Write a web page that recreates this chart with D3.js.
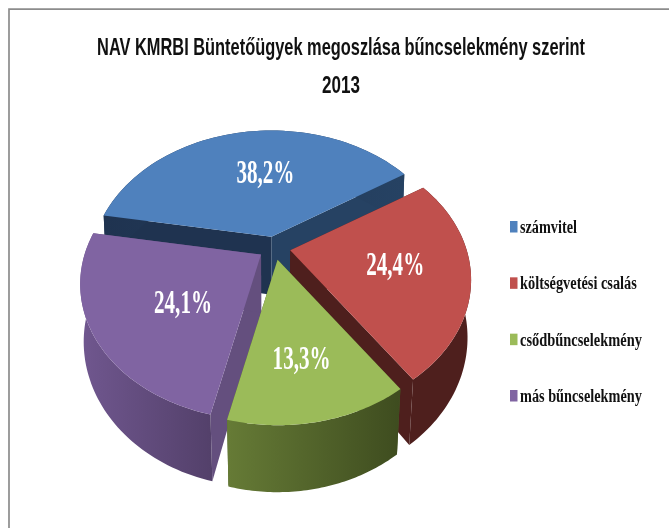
<!DOCTYPE html>
<html><head><meta charset="utf-8">
<script src="https://cdn.jsdelivr.net/npm/d3@7/dist/d3.min.js"></script>
<style>html,body{margin:0;padding:0;background:#fff;overflow:hidden}svg{display:block;filter:blur(0.45px)}</style>
</head><body><svg id="c" width="669" height="528"></svg>
<script>
const titleLines = ["NAV KMRBI Büntetőügyek megoszlása bűncselekmény szerint", "2013"];
const categories = ["számvitel", "költségvetési csalás", "csődbűncselekmény", "más bűncselekmény"];
const values = [38.2, 24.4, 13.3, 24.1];
const valueLabels = ["38,2%", "24,4%", "13,3%", "24,1%"];
const colors = ["#4F81BD", "#C0504D", "#9BBB59", "#8064A2"];

const W = 669, H = 528;
const cx = 274.5, cy = 248, R = 176.5, tilt = 0.733, persp = 0.218, explode = 16;
const depth = 58, depthGrow = 0.155;
const startDeg = -80.2;

const svg = d3.select("#c");
const defs = svg.append("defs");
svg.append("rect").attr("width", W).attr("height", H).attr("fill", "#fff");
svg.append("path").attr("d", `M9 ${H} V9.2 H${W}`).attr("fill", "none").attr("stroke", "#8c8c8c").attr("stroke-width", 1.7);

const project = (x, y) => {
  const s = 1 / (1 + persp * y / R);
  return [x * s, -y * tilt * s];
};
const pie = d3.pie().sort(null).startAngle(startDeg * Math.PI / 180).endAngle((startDeg + 360) * Math.PI / 180);
const arcs = pie(values);
const line = d3.line();

const wallStops = [
  [["0%", "#1F3350"], ["100%", "#264263"]],
  [["0%", "#4E1F1D"], ["100%", "#4E1F1D"]],
  [["0%", "#667B36"], ["100%", "#3E4C1F"]],
  [["0%", "#70578F"], ["100%", "#53406A"]]
];
wallStops.forEach((stops, i) => {
  const g = defs.append("linearGradient").attr("id", "w" + i);
  stops.forEach(s => g.append("stop").attr("offset", s[0]).attr("stop-color", s[1]));
});
const faceColors = ["#1F3350", "#4E1F1D", "#4E5F2A", "#644F7E"];
const frontColors = ["#264263", "#4E1F1D", "#4E5F2A", "#644F7E"];
const labelOffset = [[-6, -54], [105, 25], [24, 109], [-78, 58]];

const geom = arcs.map(a => {
  const mid = (a.startAngle + a.endAngle) / 2;
  const off = project(explode * Math.sin(mid), explode * Math.cos(mid));
  const apex = [cx + off[0], cy + off[1]];
  const top = (th, r = R) => {
    const p = project(r * Math.sin(th), r * Math.cos(th));
    return [apex[0] + p[0], apex[1] + p[1]];
  };
  const bottom = (th, r = R) => {
    const p = top(th, r);
    const v = r / R * Math.cos(th);
    const floor = 0.985 + 0.015 * Math.min(v, 0);
    return [cx + (p[0] - cx) * floor, p[1] + depth * (1 - depthGrow * v)];
  };
  const ths = d3.range(0, 61).map(i => a.startAngle + (a.endAngle - a.startAngle) * i / 60);
  return { a, apex, top, bottom, ths };
});

// painter's order: back slice first, green last
[0, 1, 3, 2].forEach(i => {
  const g = geom[i], a = g.a;
  const group = svg.append("g");
  const rimTop = g.ths.map(t => g.top(t));
  const rimBot = g.ths.map(t => g.bottom(t)).reverse();
  group.append("path").attr("fill", faceColors[i]).attr("d", line([g.top(0, 0), g.top(a.startAngle), g.bottom(a.startAngle), g.bottom(0, 0)]) + "Z");
  group.append("path").attr("fill", frontColors[i]).attr("d", line([g.top(0, 0), g.top(a.endAngle), g.bottom(a.endAngle), g.bottom(0, 0)]) + "Z");
  group.append("path").attr("fill", `url(#w${i})`).attr("d", line(rimTop.concat(rimBot)) + "Z");
  group.append("path").attr("fill", colors[i]).attr("d", line([g.top(0, 0)].concat(rimTop)) + "Z");
});

// text squeezed horizontally to the reference's condensed look
const fitted = (x, y, anchor, width, font, weight, size, fill, str) => {
  const t = svg.append("text").attr("font-family", font).attr("font-weight", weight)
    .attr("font-size", size).attr("fill", fill).attr("text-anchor", anchor).text(str);
  const sx = width / t.node().getComputedTextLength();
  t.attr("transform", `translate(${x},${y}) scale(${sx},1)`);
};
const serif = "'Liberation Serif','Times New Roman',serif";
const narrow = "'Liberation Sans Narrow','Liberation Sans',sans-serif";

geom.forEach((g, i) => {
  fitted(g.apex[0] + labelOffset[i][0], g.apex[1] + labelOffset[i][1], "middle", 58, serif, "bold", 34, "#fff", valueLabels[i]);
});

titleLines.forEach((t, i) => {
  fitted(341, i ? 93 : 55, "middle", i ? 38 : 488, narrow, "bold", 23, "#111", t);
});

const legendY = d3.scalePoint().domain(categories).range([233, 402]);
const legendW = [57, 117, 122, 122];
categories.forEach((c, i) => {
  const y = legendY(c);
  svg.append("rect").attr("x", 510).attr("y", y - 12).attr("width", 7.5).attr("height", 11.5).attr("fill", colors[i]);
  fitted(520, y, "start", legendW[i], serif, "bold", 19, "#111", c);
});
</script></body></html>
